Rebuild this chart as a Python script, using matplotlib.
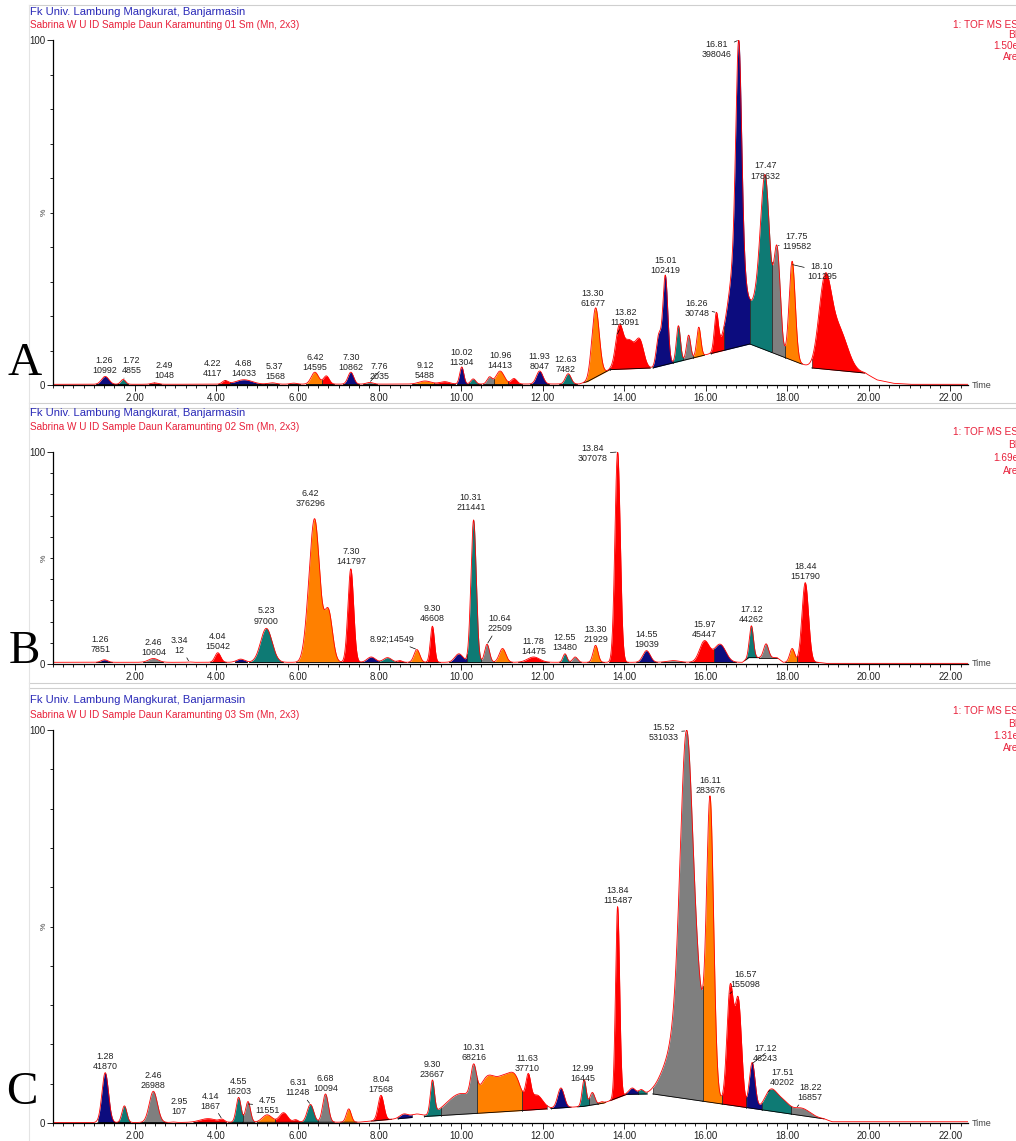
import numpy as np
import matplotlib.pyplot as plt
from matplotlib.lines import Line2D
from matplotlib.ticker import MultipleLocator, FixedLocator

plt.rcParams['font.family'] = ['Liberation Sans', 'DejaVu Sans']

W, H = 1016, 1141
T_MAX = 22.43
COLORS = {'navy': '#0c0c7e', 'teal': '#0e7a74', 'gray': '#7f7f7f',
          'orange': '#ff8000', 'red': '#ff0000'}

# ---------------- panel A : sample 01 ----------------
a_rt = [1.28, 1.72, 2.49, 4.22, 4.68, 5.37, 5.9, 6.42, 6.7, 7.30,
        7.76, 9.12, 9.6, 10.02, 10.3, 10.7, 10.96, 11.3, 11.93, 12.63,
        13.30, 13.88, 14.12, 14.38, 14.85, 15.01, 15.33, 15.58, 15.83, 16.26,
        16.81, 16.78, 17.3, 17.47, 17.75, 18.12, 18.92, 19.25]
a_h = [2.3, 1.4, 0.4, 1.0, 1.3, 0.4, 0.3, 3.5, 2.4, 3.5,
       0.5, 0.9, 0.7, 5.0, 1.5, 2.0, 3.8, 1.6, 3.8, 3.0,
       20.3, 12, 8, 8, 9, 26, 10.5, 7, 8.6, 10.7,
       62, 28, 14, 44, 30, 29, 24, 12]
a_w = [0.09, 0.06, 0.08, 0.07, 0.2, 0.1, 0.08, 0.09, 0.07, 0.07,
       0.08, 0.15, 0.12, 0.05, 0.06, 0.06, 0.1, 0.07, 0.08, 0.07,
       0.09, 0.09, 0.12, 0.1, 0.06, 0.06, 0.05, 0.05, 0.05, 0.05,
       0.07, 0.2, 0.14, 0.11, 0.08, 0.075, 0.15, 0.22]
a_hump_t = [0, 12.9, 13.1, 13.65, 14.7, 17.08, 18.6, 19.9, 20.2, 20.6, 21.0, T_MAX]
a_hump_y = [0.2, 0.3, 1.0, 4.5, 5.0, 12.0, 5.0, 3.5, 1.5, 0.5, 0.2, 0.2]
a_seg_start = [1.05, 1.6, 2.35, 4.05, 4.35, 5.2, 5.75, 6.2, 6.6, 7.1,
               7.6, 8.8, 9.35, 9.9, 10.2, 10.55, 10.8, 11.15, 11.7, 12.4,
               13.0, 13.65, 14.7, 15.2, 15.45, 15.7, 16.12, 16.45, 17.08, 17.62,
               17.95, 18.6]
a_seg_end = [1.6, 1.85, 2.65, 4.35, 5.2, 5.55, 6.05, 6.6, 6.9, 7.5,
             7.95, 9.35, 9.85, 10.2, 10.5, 10.8, 11.15, 11.5, 12.15, 12.85,
             13.65, 14.63, 15.2, 15.45, 15.7, 15.97, 16.45, 17.08, 17.62, 17.95,
             18.35, 19.9]
a_seg_color = ['navy', 'teal', 'red', 'red', 'navy', 'gray', 'gray', 'orange', 'red', 'navy',
               'gray', 'orange', 'red', 'navy', 'teal', 'gray', 'orange', 'red', 'navy', 'teal',
               'orange', 'red', 'navy', 'teal', 'gray', 'orange', 'red', 'navy', 'teal', 'gray',
               'orange', 'red']
a_lab_rt = ['1.26', '1.72', '2.49', '4.22', '4.68', '5.37', '6.42', '7.30', '7.76', '9.12',
            '10.02', '10.96', '11.93', '12.63', '13.30', '13.82', '15.01', '16.26', '16.81',
            '17.47', '17.75', '18.10']
a_lab_area = ['10992', '4855', '1048', '4117', '14033', '1568', '14595', '10862', '2035', '5488',
              '11304', '14413', '8047', '7482', '61677', '113091', '102419', '30748', '398046',
              '178632', '119582', '101295']
a_nudge = {1: (6, 3), 2: (7, 2), 3: (-9, 2), 5: (2, 1), 6: (0, 0), 7: (0, 0), 8: (7, 1),
           10: (0, 0), 12: (0, 0), 13: (-2, 0), 14: (-2, 0), 15: (6, 6), 16: (0, 0),
           17: (-14, -4), 18: (-16, -14), 19: (0, -3), 20: (14, -4), 21: (22, -12)}

# ---------------- panel B : sample 02 ----------------
b_rt = [1.26, 2.46, 3.34, 4.04, 4.6, 5.23, 6.25, 6.42, 6.75, 7.30,
        7.8, 8.2, 8.5, 8.92, 9.30, 9.95, 10.31, 10.64, 11.02, 11.78,
        12.55, 12.8, 13.30, 13.84, 14.55, 15.2, 15.97, 16.35, 17.12, 17.48,
        18.12, 18.44]
b_h = [1.2, 1.8, 0.15, 4.5, 1.5, 16, 10, 65, 24, 44,
       2.5, 2.2, 0.8, 6, 17, 4, 67, 8.5, 6.5, 2.5,
       4, 2.5, 8, 99, 5.5, 0.8, 10, 8.5, 15, 6.5,
       6.5, 37.5]
b_w = [0.08, 0.12, 0.05, 0.07, 0.1, 0.14, 0.1, 0.12, 0.1, 0.07,
       0.1, 0.1, 0.06, 0.07, 0.05, 0.1, 0.065, 0.06, 0.08, 0.15,
       0.05, 0.06, 0.06, 0.065, 0.09, 0.15, 0.12, 0.14, 0.05, 0.06,
       0.06, 0.08]
b_hump_t = [0, 16.9, 17.05, 17.75, 17.9, 18.75, 18.95, T_MAX]
b_hump_y = [0.8, 0.8, 3.0, 3.0, 0.8, 0.8, 0.3, 0.3]
b_seg_start = [1.05, 2.2, 3.85, 4.45, 4.8, 5.95, 7.05, 7.55, 8.0, 8.4,
               8.7, 9.15, 9.7, 10.15, 10.5, 10.8, 11.4, 12.4, 12.68, 13.1,
               13.62, 14.3, 14.9, 15.6, 16.2, 16.95, 17.3, 17.95, 18.25]
b_seg_end = [1.45, 2.7, 4.25, 4.75, 5.65, 7.05, 7.55, 8.0, 8.4, 8.65,
             9.15, 9.5, 10.15, 10.5, 10.8, 11.25, 12.15, 12.68, 12.95, 13.5,
             14.1, 14.8, 15.5, 16.2, 16.75, 17.3, 17.75, 18.25, 18.75]
b_seg_color = ['navy', 'gray', 'red', 'navy', 'teal', 'orange', 'red', 'navy', 'teal', 'red',
               'orange', 'red', 'navy', 'teal', 'gray', 'orange', 'red', 'teal', 'gray', 'orange',
               'red', 'navy', 'gray', 'red', 'navy', 'teal', 'gray', 'orange', 'red']
b_lab_rt = ['1.26', '2.46', '3.34', '4.04', '5.23', '6.42', '7.30', '8.92', '9.30', '10.31',
            '10.64', '11.78', '12.55', '13.30', '13.84', '14.55', '15.97', '17.12', '18.44']
b_lab_area = ['7851', '10604', '12', '15042', '97000', '376296', '141797', '14549', '46608',
              '211441', '22509', '14475', '13480', '21929', '307078', '19039', '45447',
              '44262', '151790']
b_nudge = {0: (-3, 4), 2: (-7, 5), 4: (0, 2), 5: (-3, 8), 6: (0, 2), 7: (-18, 4), 8: (0, 2),
           9: (-2, 6), 10: (9, 8), 14: (-18, -8)}
b_inline = {7}

# ---------------- panel C : sample 03 ----------------
c_rt = [1.28, 1.75, 2.46, 2.95, 3.8, 4.14, 4.55, 4.78, 5.25, 5.65,
        5.95, 6.31, 6.68, 7.25, 8.04, 8.6, 8.9, 9.30, 10.0, 10.31,
        10.65, 11.05, 11.35, 11.65, 11.85, 12.45, 13.02, 13.22, 13.45, 13.84,
        14.2, 14.42, 15.0, 15.52, 15.6, 16.11, 16.6, 16.8, 17.14, 17.6,
        17.9, 18.35]
c_h = [12, 4, 7.5, 0.1, 0.9, 0.6, 6, 5, 1.8, 2.3,
       0.6, 4.3, 6.8, 3.2, 6, 1, 0.7, 8, 5, 7.4,
       7, 7.5, 6, 6.5, 3.5, 4.8, 6.4, 3, 0.4, 46,
       1.5, 1, 4, 50, 40, 66, 28, 25, 11, 5,
       2.5, 1.8]
c_w = [0.08, 0.06, 0.1, 0.05, 0.2, 0.06, 0.06, 0.06, 0.12, 0.1,
       0.06, 0.08, 0.07, 0.06, 0.07, 0.1, 0.12, 0.05, 0.35, 0.07,
       0.18, 0.2, 0.15, 0.06, 0.15, 0.08, 0.05, 0.06, 0.05, 0.05,
       0.08, 0.06, 0.2, 0.14, 0.28, 0.085, 0.08, 0.08, 0.07, 0.15,
       0.15, 0.2]
c_hump_t = [0, 7.5, 9.0, 11.2, 13.0, 13.5, 14.06, 14.7, 18.9, 19.1, T_MAX]
c_hump_y = [0.1, 0.2, 1.5, 2.8, 4.0, 4.8, 6.9, 7.0, 1.0, 0.3, 0.3]
c_seg_start = [1.1, 1.62, 2.15, 3.45, 4.3, 4.65, 5.0, 5.45, 6.05, 6.5,
               7.05, 7.8, 8.45, 9.1, 9.5, 10.4, 11.5, 12.2, 12.85, 13.15,
               13.35, 13.65, 14.05, 14.35, 14.7, 15.93, 16.4, 17.0, 17.38, 18.1]
c_seg_end = [1.62, 1.9, 2.8, 4.25, 4.65, 4.95, 5.45, 6.05, 6.5, 6.9,
             7.45, 8.3, 8.8, 9.5, 10.4, 11.5, 12.1, 12.7, 13.15, 13.35,
             13.55, 14.05, 14.35, 14.55, 15.93, 16.4, 17.0, 17.38, 18.1, 18.9]
c_seg_color = ['navy', 'teal', 'gray', 'red', 'teal', 'gray', 'orange', 'red', 'teal', 'gray',
               'orange', 'red', 'navy', 'teal', 'gray', 'orange', 'red', 'navy', 'teal', 'gray',
               'orange', 'red', 'navy', 'teal', 'gray', 'orange', 'red', 'navy', 'teal', 'gray']
c_lab_rt = ['1.28', '2.46', '2.95', '4.14', '4.55', '4.75', '6.31', '6.68', '8.04', '9.30',
            '10.31', '11.63', '12.99', '13.84', '15.52', '16.11', '16.57', '17.12', '17.51', '18.22']
c_lab_area = ['41870', '26988', '107', '1867', '16203', '11551', '11248', '10094', '17568',
              '23667', '68216', '37710', '16445', '115487', '531033', '283676', '155098',
              '46243', '40202', '16857']
c_nudge = {2: (4, 4), 3: (-8, 6), 5: (15, -8), 6: (-9, 5), 14: (-16, -8), 16: (12, 4),
           17: (10, 1), 18: (11, 4), 19: (10, 4)}

headers = ['Sabrina W U ID Sample Daun Karamunting 01 Sm (Mn, 2x3)',
           'Sabrina W U ID Sample Daun Karamunting 02 Sm (Mn, 2x3)',
           'Sabrina W U ID Sample Daun Karamunting 03 Sm (Mn, 2x3)']
scales = ['1.50e5', '1.69e5', '1.31e5']


def px_x(x):
    return x / W


def px_y(y):
    return 1 - y / H


def draw_panel(ax, rts, hs, ws, hump_t, hump_y, s0, s1, sc, lab_rt, lab_area, nudge, inline=()):
    t = np.linspace(0, T_MAX, 8000)
    base = np.interp(t, hump_t, hump_y)
    y = base.copy()
    for r, h, w in zip(rts, hs, ws):
        y = y + h * np.exp(-0.5 * ((t - r) / w) ** 2)
    k = 100.0 / y.max()
    y = y * k
    base = base * k

    for a, b, c in zip(s0, s1, sc):
        m = (t >= a) & (t <= b)
        ax.fill_between(t[m], base[m], y[m], color=COLORS[c], lw=0)
        ax.plot(t[m], base[m], color='black', lw=0.6)
        for e in (a, b):
            ax.plot([e, e], [np.interp(e, t, base), np.interp(e, t, y)],
                    color='#202020', lw=0.4)
    ax.plot(t, y, color='red', lw=0.6)

    for i, (r, area) in enumerate(zip(lab_rt, lab_area)):
        dx, dy = nudge.get(i, (0, 1))
        sep = ';' if i in inline else '\n'
        rv = float(r)
        yp = np.interp(rv, t, y)
        arrow = None
        if abs(dx) > 5:
            arrow = dict(arrowstyle='-', lw=0.5, color='black', shrinkA=0, shrinkB=1)
        ax.annotate(r + sep + area, xy=(rv, yp), xytext=(dx, dy),
                    textcoords='offset points', ha='center', va='bottom',
                    fontsize=6.4, linespacing=1.15, color='#222222',
                    annotation_clip=False, arrowprops=arrow)

    ax.set_xlim(0, T_MAX)
    ax.set_ylim(0, 100)
    ax.spines['top'].set_visible(False)
    ax.spines['right'].set_visible(False)
    ax.spines['left'].set_linewidth(0.9)
    ax.spines['bottom'].set_linewidth(0.9)
    ax.xaxis.set_major_locator(FixedLocator(np.arange(2, 23, 2)))
    ax.set_xticklabels([f'{v:.2f}' for v in np.arange(2, 23, 2)])
    ax.xaxis.set_minor_locator(MultipleLocator(0.25))
    ax.set_yticks([0, 100])
    ax.set_yticklabels(['0', '100'])
    ax.yaxis.set_minor_locator(MultipleLocator(10))
    ax.tick_params(axis='both', which='major', direction='out', length=4, width=0.7,
                   labelsize=7, pad=1.5, colors='#222222')
    ax.tick_params(axis='both', which='minor', direction='out', length=2.5, width=0.6)
    ax.text(-0.006, 0.5, '%', transform=ax.transAxes, rotation=90, fontsize=6,
            ha='right', va='center', color='#444444')
    ax.text(1.004, 0.0, 'Time', transform=ax.transAxes, fontsize=6.5,
            ha='left', va='center', color='#444444')


fig = plt.figure(figsize=(W / 100, H / 100), dpi=100)

panels = [
    (385, 40, a_rt, a_h, a_w, a_hump_t, a_hump_y, a_seg_start, a_seg_end, a_seg_color,
     a_lab_rt, a_lab_area, a_nudge, ()),
    (664, 452, b_rt, b_h, b_w, b_hump_t, b_hump_y, b_seg_start, b_seg_end, b_seg_color,
     b_lab_rt, b_lab_area, b_nudge, b_inline),
    (1123, 730, c_rt, c_h, c_w, c_hump_t, c_hump_y, c_seg_start, c_seg_end, c_seg_color,
     c_lab_rt, c_lab_area, c_nudge, ()),
]
for p in panels:
    y0, y1 = p[0], p[1]
    ax = fig.add_axes([px_x(53), px_y(y0), px_x(968 - 53), (y0 - y1) / H])
    draw_panel(ax, *p[2:])

# header lines and side texts
head_y = [(12, 25), (413, 427), (700, 715)]
right_y = [(25, 35, 46, 57), (432, 445, 458, 471), (711, 724, 736, 748)]
letters = [('A', 25, 375), ('B', 24, 663), ('C', 22, 1104)]
for i in range(3):
    fig.text(px_x(30), px_y(head_y[i][0]), 'Fk Univ. Lambung Mangkurat, Banjarmasin',
             fontsize=8.1, color='#2a2ab8', va='center', ha='left')
    fig.text(px_x(30), px_y(head_y[i][1]), headers[i],
             fontsize=7.2, color='#e8203a', va='center', ha='left')
    for txt, yy in zip(['1: TOF MS ES+', 'BPI', scales[i], 'Area'], right_y[i]):
        fig.text(px_x(1024), px_y(yy), txt, fontsize=7.2, color='#e8203a',
                 va='center', ha='right')
    lt, lx, ly = letters[i]
    fig.text(px_x(lx), px_y(ly), lt, fontsize=34, family='Liberation Serif',
             ha='center', va='baseline', color='black')

# light frame lines
for yy in (5, 403, 408, 683, 688):
    fig.add_artist(Line2D([px_x(29), 1], [px_y(yy), px_y(yy)], color='#cfcfcf', lw=0.8))
fig.add_artist(Line2D([px_x(29), px_x(29)], [0, px_y(5)], color='#e4e4e4', lw=0.8))

fig.savefig('out.png', dpi=100)
